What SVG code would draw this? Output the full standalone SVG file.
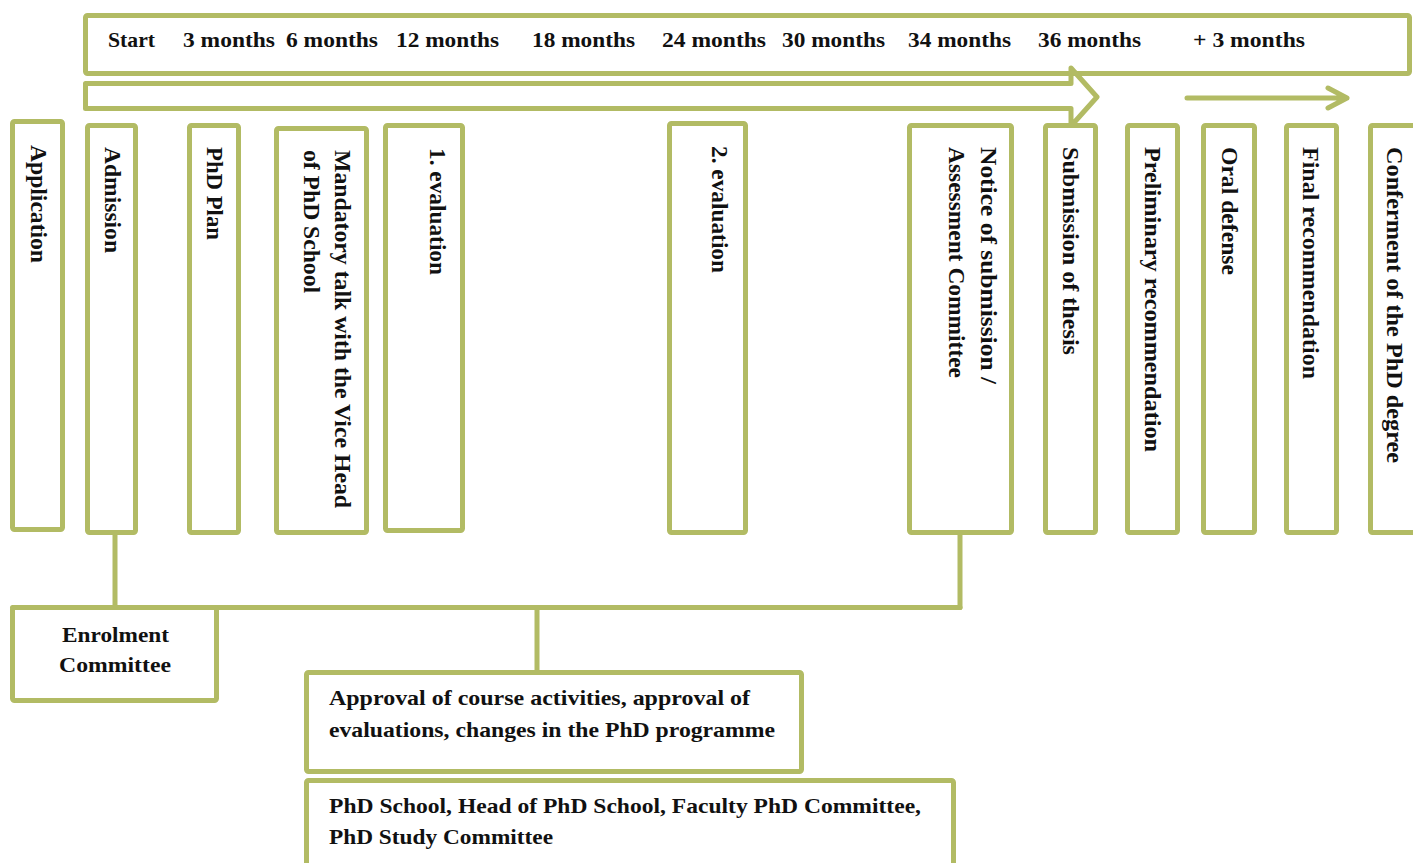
<svg xmlns="http://www.w3.org/2000/svg" width="1413" height="863" viewBox="0 0 1413 863">
<style>
.b{fill:#fff;stroke:#b2bb64;stroke-width:5;stroke-linejoin:round}
.c{fill:none;stroke:#b2bb64;stroke-width:5;stroke-linecap:round;stroke-linejoin:round}
text{font-family:"Liberation Serif","Times New Roman",serif;font-weight:bold;fill:#111}
.h{font-size:22px}
.v{font-size:23px}
.m{font-size:21px}
</style>
<rect width="1413" height="863" fill="#fff"/>

<g id="timeline">
<rect class="b" x="85.5" y="15.5" width="1324" height="58" rx="2"/>
<text class="h" x="108" y="47" textLength="47" lengthAdjust="spacingAndGlyphs">Start</text>
<text class="h" x="183" y="47" textLength="92" lengthAdjust="spacingAndGlyphs">3 months</text>
<text class="h" x="286" y="47" textLength="92" lengthAdjust="spacingAndGlyphs">6 months</text>
<text class="h" x="396" y="47" textLength="103" lengthAdjust="spacingAndGlyphs">12 months</text>
<text class="h" x="532" y="47" textLength="103" lengthAdjust="spacingAndGlyphs">18 months</text>
<text class="h" x="662" y="47" textLength="104" lengthAdjust="spacingAndGlyphs">24 months</text>
<text class="h" x="782" y="47" textLength="103" lengthAdjust="spacingAndGlyphs">30 months</text>
<text class="h" x="908" y="47" textLength="103" lengthAdjust="spacingAndGlyphs">34 months</text>
<text class="h" x="1038" y="47" textLength="103" lengthAdjust="spacingAndGlyphs">36 months</text>
<text class="h" x="1193" y="47" textLength="112" lengthAdjust="spacingAndGlyphs">+ 3 months</text>
</g>

<g id="main-arrow">
<polygon class="b" style="fill:none" points="85.5,83.5 1071,83.5 1071,68 1097,97 1071,126 1071,108.5 85.5,108.5"/>
</g>

<g id="extra-arrow">
<path class="c" d="M1187,98 H1347 M1328,88 L1347,98 L1328,108"/>
</g>

<g id="connectors">
<path class="c" d="M115,535 V607.5"/>
<path class="c" d="M12.5,607.5 H960"/>
<path class="c" d="M960,535 V607.5"/>
<path class="c" d="M537,607.5 V680"/>
</g>

<g id="application">
<rect class="b" x="12.5" y="121.5" width="50" height="408" rx="2"/>
<text class="v" transform="translate(31,145) rotate(90)" textLength="118" lengthAdjust="spacingAndGlyphs">Application</text>
</g>
<g id="admission">
<rect class="b" x="87.5" y="125.5" width="48" height="407" rx="2"/>
<text class="v" transform="translate(105,147) rotate(90)" textLength="106" lengthAdjust="spacingAndGlyphs">Admission</text>
</g>
<g id="phd-plan">
<rect class="b" x="189.5" y="125.5" width="49" height="407" rx="2"/>
<text class="v" transform="translate(207,147) rotate(90)" textLength="93" lengthAdjust="spacingAndGlyphs">PhD Plan</text>
</g>
<g id="mandatory-talk">
<rect class="b" x="276.5" y="128.5" width="90" height="404" rx="2"/>
<text class="v" transform="translate(335,150) rotate(90)" textLength="358" lengthAdjust="spacingAndGlyphs">Mandatory talk with the Vice Head</text>
<text class="v" transform="translate(304,150) rotate(90)" textLength="143" lengthAdjust="spacingAndGlyphs">of PhD School</text>
</g>
<g id="evaluation-1">
<rect class="b" x="385.5" y="125.5" width="77" height="405" rx="2"/>
<text class="v" transform="translate(430,148) rotate(90)" textLength="127" lengthAdjust="spacingAndGlyphs">1. evaluation</text>
</g>
<g id="evaluation-2">
<rect class="b" x="669.5" y="123.5" width="76" height="409" rx="2"/>
<text class="v" transform="translate(712,146) rotate(90)" textLength="127" lengthAdjust="spacingAndGlyphs">2. evaluation</text>
</g>
<g id="notice">
<rect class="b" x="909.5" y="125.5" width="102" height="407" rx="2"/>
<text class="v" transform="translate(981,147) rotate(90)" textLength="237" lengthAdjust="spacingAndGlyphs">Notice of submission /</text>
<text class="v" transform="translate(949,147) rotate(90)" textLength="231" lengthAdjust="spacingAndGlyphs">Assessment Committee</text>
</g>
<g id="submission">
<rect class="b" x="1045.5" y="125.5" width="50" height="407" rx="2"/>
<text class="v" transform="translate(1063,147) rotate(90)" textLength="208" lengthAdjust="spacingAndGlyphs">Submission of thesis</text>
</g>
<g id="preliminary">
<rect class="b" x="1127.5" y="125.5" width="50" height="407" rx="2"/>
<text class="v" transform="translate(1145,147) rotate(90)" textLength="305" lengthAdjust="spacingAndGlyphs">Preliminary recommendation</text>
</g>
<g id="oral-defense">
<rect class="b" x="1203.5" y="125.5" width="51" height="407" rx="2"/>
<text class="v" transform="translate(1222,147) rotate(90)" textLength="128" lengthAdjust="spacingAndGlyphs">Oral defense</text>
</g>
<g id="final-recommendation">
<rect class="b" x="1286.5" y="125.5" width="50" height="407" rx="2"/>
<text class="v" transform="translate(1303,147) rotate(90)" textLength="232" lengthAdjust="spacingAndGlyphs">Final recommendation</text>
</g>
<g id="conferment">
<rect class="b" x="1370.5" y="125.5" width="60" height="407" rx="2"/>
<text class="v" transform="translate(1387,147) rotate(90)" textLength="316" lengthAdjust="spacingAndGlyphs">Conferment of the PhD degree</text>
</g>

<g id="enrolment-committee">
<rect class="b" x="12.5" y="607.5" width="204" height="93" rx="2"/>
<text class="h" x="62" y="642" textLength="107" lengthAdjust="spacingAndGlyphs">Enrolment</text>
<text class="h" x="59" y="672" textLength="112" lengthAdjust="spacingAndGlyphs">Committee</text>
</g>
<g id="approval">
<rect class="b" x="306.5" y="672.5" width="495" height="99" rx="2"/>
<text class="m" x="329" y="705" textLength="421" lengthAdjust="spacingAndGlyphs">Approval of course activities, approval of</text>
<text class="m" x="329" y="737" textLength="446" lengthAdjust="spacingAndGlyphs">evaluations, changes in the PhD programme</text>
</g>
<g id="phd-school">
<rect class="b" x="306.5" y="780.5" width="647" height="100" rx="2"/>
<text class="m" x="329" y="813" textLength="592" lengthAdjust="spacingAndGlyphs">PhD School, Head of PhD School, Faculty PhD Committee,</text>
<text class="m" x="329" y="844" textLength="224" lengthAdjust="spacingAndGlyphs">PhD Study Committee</text>
</g>
</svg>
